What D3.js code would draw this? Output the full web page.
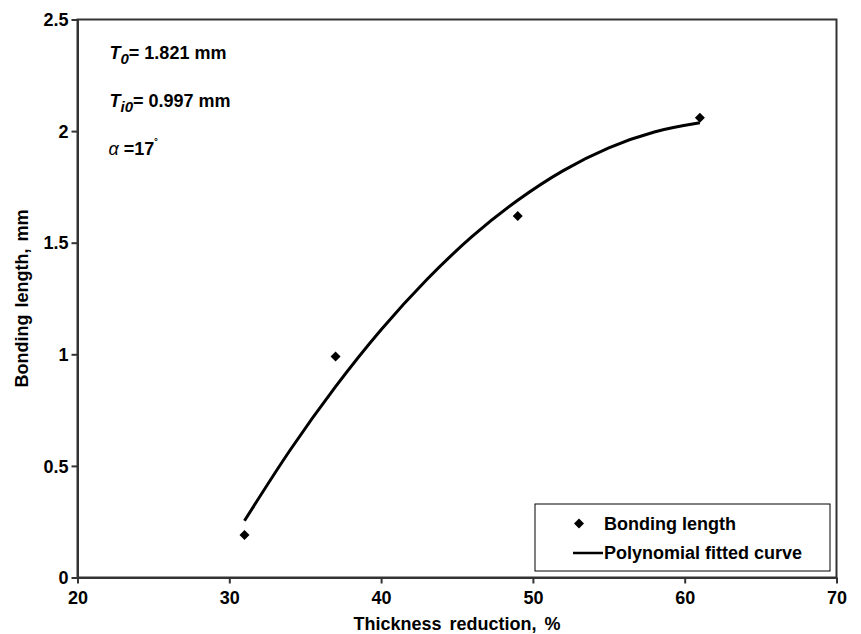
<!DOCTYPE html>
<meta charset="utf-8">
<style>
    body {
        margin: 0;
        background: #fff;
    }
    text {
        font-family: "Liberation Sans", Arial, sans-serif;
        font-weight: bold;
        fill: #000;
    }
    .axis path, .axis line {
        stroke: #333;
        stroke-width: 2px;
    }
</style>
<script src="https://d3js.org/d3.v7.min.js"></script>
<div id="chart"></div>
<script>

    // measured points
    var thickness = [31, 37, 49, 61];
    var bondingLength = [0.19, 0.99, 1.62, 2.06];

    // fitted curve
    var fitThickness = [31, 34, 37, 40, 43, 46, 49, 52, 55, 58, 61];
    var fitBonding = [0.254, 0.57, 0.855, 1.11, 1.334, 1.528, 1.69, 1.823, 1.925, 1.996, 2.037];

    var xTicks = [20, 30, 40, 50, 60, 70];
    var yTicks = [0, 0.5, 1, 1.5, 2, 2.5];
    var yTickLabels = ["0", "0.5", "1", "1.5", "2", "2.5"];

    var margin = {top: 19.5, right: 24.5, bottom: 56.5, left: 77.5},
        width = 861 - margin.left - margin.right,
        height = 634 - margin.top - margin.bottom;

    var svg = d3.select("#chart")
        .append("svg")
        .attr("width", 861)
        .attr("height", 634)
        .append("g")
        .attr("transform", "translate(" + margin.left + "," + margin.top + ")");

    var x = d3.scaleLinear()
        .domain([20, 70])
        .range([0, width]);

    var y = d3.scaleLinear()
        .domain([0, 2.5])
        .range([height, 0]);

    // frame
    svg.append("rect")
        .attr("x", 0)
        .attr("y", 0)
        .attr("width", width)
        .attr("height", height)
        .style("fill", "none")
        .style("stroke", "#333")
        .style("stroke-width", 2);

    var xAxis = svg.append("g")
        .attr("class", "axis")
        .attr("transform", "translate(0," + height + ")")
        .call(d3.axisBottom(x).tickValues(xTicks).tickSize(6).tickSizeOuter(0));
    xAxis.selectAll("text")
        .attr("dy", "0")
        .attr("y", 26)
        .style("font-size", "18px");

    var yAxis = svg.append("g")
        .attr("class", "axis")
        .call(d3.axisLeft(y).tickValues(yTicks).tickSize(6).tickSizeOuter(0)
            .tickFormat(function(d, i) { return yTickLabels[i]; }));
    yAxis.selectAll("text")
        .attr("x", -9)
        .attr("dy", "0.34em")
        .style("font-size", "18px");

    // axis titles
    svg.append("text")
        .attr("text-anchor", "middle")
        .attr("x", width / 2)
        .attr("y", height + 52)
        .style("font-size", "18px")
        .style("word-spacing", "3px")
        .text("Thickness reduction, %");

    svg.append("text")
        .attr("text-anchor", "middle")
        .attr("transform", "translate(" + (-50) + "," + (height / 2) + ") rotate(-90)")
        .style("font-size", "18px")
        .style("word-spacing", "2px")
        .text("Bonding length, mm");

    // fitted curve
    var line = d3.line()
        .x(function(d, i) { return x(fitThickness[i]); })
        .y(function(d) { return y(d); })
        .curve(d3.curveMonotoneX);

    svg.append("path")
        .datum(fitBonding)
        .attr("d", line)
        .style("fill", "none")
        .style("stroke", "#000")
        .style("stroke-width", 3);

    // points
    var diamond = d3.symbol().type(d3.symbolSquare).size(50);
    svg.selectAll("mypoints")
        .data(bondingLength)
        .enter()
        .append("path")
        .attr("d", diamond)
        .attr("transform", function(d, i) {
            return "translate(" + x(thickness[i]) + "," + y(d) + ") rotate(45)";
        })
        .style("fill", "#000");

    // parameters
    var notes = svg.append("g").style("font-size", "18px");

    var t0 = notes.append("text").attr("x", 32).attr("y", 39);
    t0.append("tspan").style("font-style", "italic").text("T");
    t0.append("tspan").style("font-style", "italic").style("font-size", "15px").attr("dy", 5).text("0");
    t0.append("tspan").attr("dy", -5).text("= 1.821 mm");

    var ti0 = notes.append("text").attr("x", 32).attr("y", 87);
    ti0.append("tspan").style("font-style", "italic").text("T");
    ti0.append("tspan").style("font-style", "italic").style("font-size", "15px").attr("dy", 5).text("i0");
    ti0.append("tspan").attr("dy", -5).text("= 0.997 mm");

    var alpha = notes.append("text").attr("x", 31).attr("y", 135);
    alpha.append("tspan").style("font-style", "italic").style("font-weight", "normal").text("α");
    alpha.append("tspan").text(" =17");
    alpha.append("tspan").style("font-size", "12px").attr("dy", -7).text("˚");

    // legend
    var legend = svg.append("g")
        .attr("transform", "translate(" + (535 - margin.left) + "," + (504 - margin.top) + ")");

    legend.append("rect")
        .attr("width", 295)
        .attr("height", 67)
        .style("fill", "#fff")
        .style("stroke", "#000")
        .style("stroke-width", 1);

    legend.append("path")
        .attr("d", diamond)
        .attr("transform", "translate(44,19.5) rotate(45)")
        .style("fill", "#000");

    legend.append("text")
        .attr("x", 69)
        .attr("y", 19.5)
        .attr("dy", "0.35em")
        .style("font-size", "18px")
        .text("Bonding length");

    legend.append("line")
        .attr("x1", 38)
        .attr("x2", 68)
        .attr("y1", 49)
        .attr("y2", 49)
        .style("stroke", "#000")
        .style("stroke-width", 2.5);

    legend.append("text")
        .attr("x", 69)
        .attr("y", 49)
        .attr("dy", "0.35em")
        .style("font-size", "18px")
        .text("Polynomial fitted curve");

</script>
